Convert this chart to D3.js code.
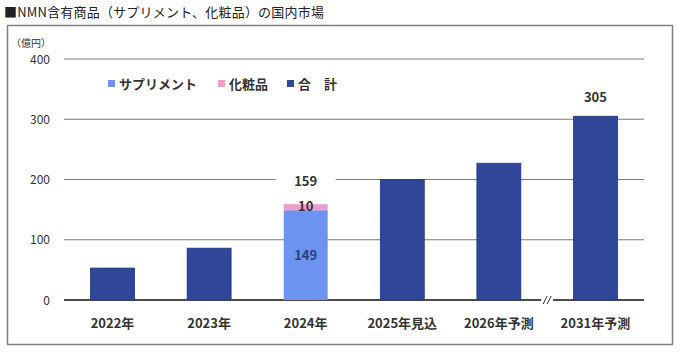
<!DOCTYPE html>
<html>
<head>
<meta charset="utf-8">
<script src="https://cdn.jsdelivr.net/npm/d3@7"></script>
<style>
  body { margin: 0; background: #fff; }
  svg text { font-family: "Noto Sans CJK JP", "Noto Sans", sans-serif; }
</style>
</head>
<body>
<svg id="chart" width="680" height="352"></svg>
<script>
const categories = ["2022年", "2023年", "2024年", "2025年見込", "2026年予測", "2031年予測"];
const supplement = [null, null, 149, null, null, null];
const cosmetic   = [null, null, 10, null, null, null];
const totals     = [53, 86, 159, 200, 227, 305];
const yTicks     = [0, 100, 200, 300, 400];
const legendNames = ["サプリメント", "化粧品", "合　計"];

const colors = { supp: "#6b93ef", cos: "#f29bcd", total: "#2f4699" };

const svg = d3.select("#chart");

// outer frame + title
svg.append("rect")
  .attr("x", 7.5).attr("y", 25.5).attr("width", 665).attr("height", 319)
  .attr("fill", "none").attr("stroke", "#7f7f7f").attr("stroke-width", 1.5);

svg.append("text")
  .attr("x", 4).attr("y", 17)
  .attr("font-size", 13).attr("fill", "#222")
  .attr("letter-spacing", 0.2)
  .text("■NMN含有商品（サプリメント、化粧品）の国内市場");

const x = d3.scaleBand()
  .domain(categories)
  .range([64, 644])
  .paddingInner(0.545)
  .paddingOuter(0.275);

const y = d3.scaleLinear().domain([0, 400]).range([300, 59]);

// grid lines
svg.append("g").selectAll("line")
  .data(yTicks).join("line")
  .attr("x1", 64).attr("x2", 644)
  .attr("y1", d => y(d)).attr("y2", d => y(d))
  .attr("stroke", d => d === 0 ? "#111" : "#7a7a7a")
  .attr("stroke-width", d => d === 0 ? 1.3 : 1.2);

// y tick labels
svg.append("g").selectAll("text")
  .data(yTicks).join("text")
  .attr("x", 50).attr("y", d => y(d) + 4.5)
  .attr("text-anchor", "end")
  .attr("font-size", 12).attr("fill", "#333")
  .text(d => d);

svg.append("text")
  .attr("x", 31).attr("y", 47)
  .attr("text-anchor", "middle")
  .attr("font-size", 10).attr("fill", "#333")
  .text("（億円）");

// total bars (skip stacked year)
const bars = categories.map((c, i) => ({ c, total: totals[i], s: supplement[i], k: cosmetic[i] }));

svg.append("g").selectAll("rect")
  .data(bars.filter(d => d.s == null)).join("rect")
  .attr("x", d => x(d.c)).attr("width", x.bandwidth())
  .attr("y", d => y(d.total)).attr("height", d => y(0) - y(d.total))
  .attr("fill", colors.total)
  .attr("stroke", "#1f3380").attr("stroke-width", 0.8);

// stacked bar
const stacked = bars.filter(d => d.s != null);
svg.append("g").selectAll("rect.s")
  .data(stacked).join("rect")
  .attr("x", d => x(d.c)).attr("width", x.bandwidth())
  .attr("y", d => y(d.s)).attr("height", d => y(0) - y(d.s))
  .attr("fill", colors.supp);
svg.append("g").selectAll("rect.k")
  .data(stacked).join("rect")
  .attr("x", d => x(d.c)).attr("width", x.bandwidth())
  .attr("y", d => y(d.s + d.k)).attr("height", d => y(d.s) - y(d.s + d.k))
  .attr("fill", colors.cos);

// value labels for stacked bar
stacked.forEach(d => {
  const cx = x(d.c) + x.bandwidth() / 2;
  svg.append("rect")
    .attr("x", cx - 30).attr("y", y(d.total) - 32)
    .attr("width", 60).attr("height", 18).attr("fill", "#fff");
  svg.append("text")
    .attr("x", cx).attr("y", y(d.total) - 18)
    .attr("text-anchor", "middle").attr("font-size", 13).attr("font-weight", "bold")
    .attr("fill", "#333").text(d.total);
  svg.append("text")
    .attr("x", cx).attr("y", y(d.s + d.k / 2) + 4)
    .attr("text-anchor", "middle").attr("font-size", 13).attr("font-weight", "bold")
    .attr("fill", "#333").text(d.k);
  svg.append("text")
    .attr("x", cx).attr("y", y(d.s / 2) + 5)
    .attr("text-anchor", "middle").attr("font-size", 13).attr("font-weight", "bold")
    .attr("fill", "#2a3f7a").text(d.s);
});

// label for the last bar
const last = bars[bars.length - 1];
svg.append("text")
  .attr("x", x(last.c) + x.bandwidth() / 2).attr("y", y(last.total) - 14)
  .attr("text-anchor", "middle").attr("font-size", 13).attr("font-weight", "bold")
  .attr("fill", "#333").text(last.total);

// axis break between 2026 and 2031
const bx = (x(categories[4]) + x.bandwidth() + x(categories[5])) / 2;
svg.append("rect").attr("x", bx - 6).attr("y", y(0) - 2).attr("width", 12).attr("height", 4).attr("fill", "#fff");
[-2, 2].forEach(o => {
  svg.append("line")
    .attr("x1", bx + o - 2).attr("y1", y(0) + 4)
    .attr("x2", bx + o + 2).attr("y2", y(0) - 4)
    .attr("stroke", "#333").attr("stroke-width", 1);
});

// x labels
svg.append("g").selectAll("text")
  .data(categories).join("text")
  .attr("x", d => x(d) + x.bandwidth() / 2).attr("y", 328)
  .attr("text-anchor", "middle")
  .attr("font-size", 13).attr("font-weight", "bold").attr("fill", "#333")
  .text(d => d);

// legend
const legendX = [108, 218, 287];
const legendColors = [colors.supp, colors.cos, colors.total];
const lg = svg.append("g");
legendNames.forEach((name, i) => {
  lg.append("rect")
    .attr("x", legendX[i]).attr("y", 80).attr("width", 7).attr("height", 7)
    .attr("fill", legendColors[i]);
  lg.append("text")
    .attr("x", legendX[i] + 11).attr("y", 89)
    .attr("font-size", 13).attr("font-weight", "bold").attr("fill", "#333")
    .text(name);
});
</script>
</body>
</html>
